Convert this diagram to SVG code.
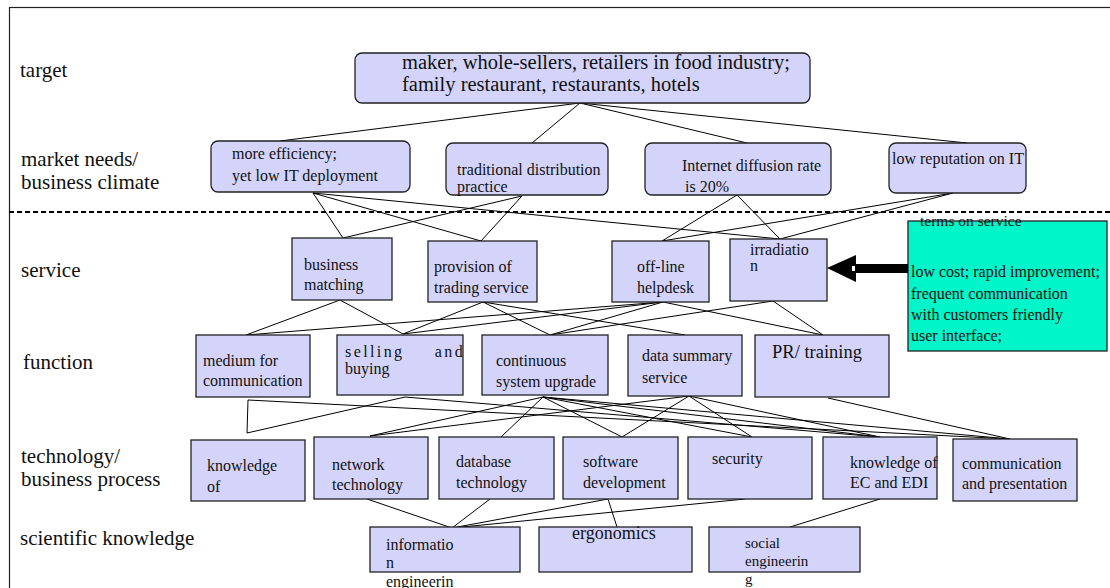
<svg xmlns="http://www.w3.org/2000/svg" width="1110" height="588" viewBox="0 0 1110 588" font-family="'Liberation Serif', 'Times New Roman', serif">
  <style>
    text { font-family: "Liberation Serif", "Times New Roman", serif; fill: #111; }
    .lbl { font-size: 21px; }
    .t16 { font-size: 16px; }
    .box { fill: #D4D4FB; stroke: #222; stroke-width: 1.3; }
    .rbox { fill: #D4D4FB; stroke: #222; stroke-width: 1.3; }
    .green { fill: #00F5C8; stroke: #222; stroke-width: 1.3; }
    #connectors line, #connectors polyline { stroke: #000; stroke-width: 1; fill: none; }
  </style>

  <!-- frame and level separator -->
  <rect x="9.5" y="7.5" width="1120" height="600" fill="#fff" stroke="#222" stroke-width="1.2"/>
  <line x1="9" y1="212" x2="1110" y2="212" stroke="#000" stroke-width="2" stroke-dasharray="5 3"/>

  <!-- level labels -->
  <g id="labels" class="lbl">
    <text x="20" y="77">target</text>
    <text x="21" y="166">market needs/</text>
    <text x="21" y="189">business climate</text>
    <text x="21" y="277">service</text>
    <text x="23" y="369">function</text>
    <text x="21" y="463">technology/</text>
    <text x="21" y="486">business process</text>
    <text x="20" y="545">scientific knowledge</text>
  </g>

  <!-- connectors -->
  <g id="connectors">
    <!-- target -> market needs -->
    <line x1="580" y1="103" x2="280" y2="141"/>
    <line x1="580" y1="103" x2="532" y2="143"/>
    <line x1="580" y1="103" x2="747" y2="143"/>
    <line x1="580" y1="103" x2="967" y2="143"/>
    <!-- market needs -> service -->
    <line x1="313" y1="193" x2="343" y2="238"/>
    <line x1="313" y1="193" x2="481" y2="241"/>
    <line x1="313" y1="193" x2="780" y2="239"/>
    <line x1="522" y1="196" x2="343" y2="238"/>
    <line x1="522" y1="196" x2="481" y2="241"/>
    <line x1="737" y1="195" x2="662" y2="241"/>
    <line x1="737" y1="195" x2="780" y2="239"/>
    <line x1="953" y1="193" x2="662" y2="241"/>
    <line x1="953" y1="193" x2="780" y2="239"/>
    <!-- service -> function -->
    <line x1="340" y1="300" x2="246" y2="335"/>
    <line x1="340" y1="300" x2="403" y2="334"/>
    <line x1="483" y1="302" x2="403" y2="334"/>
    <line x1="483" y1="302" x2="550" y2="335"/>
    <line x1="483" y1="302" x2="685" y2="335"/>
    <line x1="663" y1="302" x2="246" y2="335"/>
    <line x1="663" y1="302" x2="403" y2="334"/>
    <line x1="663" y1="302" x2="550" y2="335"/>
    <line x1="663" y1="302" x2="823" y2="335"/>
    <line x1="773" y1="301" x2="550" y2="335"/>
    <line x1="773" y1="301" x2="823" y2="335"/>
    <!-- function -> technology -->
    <polyline points="247,433 248,400 1010,439"/>
    <line x1="405" y1="397" x2="247" y2="433"/>
    <line x1="405" y1="397" x2="880" y2="437"/>
    <line x1="543" y1="397" x2="370" y2="436"/>
    <line x1="543" y1="397" x2="501" y2="437"/>
    <line x1="543" y1="397" x2="622" y2="437"/>
    <line x1="543" y1="397" x2="752" y2="437"/>
    <line x1="543" y1="397" x2="880" y2="437"/>
    <line x1="543" y1="397" x2="1010" y2="439"/>
    <line x1="689" y1="396" x2="370" y2="436"/>
    <line x1="689" y1="396" x2="622" y2="437"/>
    <line x1="689" y1="396" x2="752" y2="437"/>
    <line x1="689" y1="396" x2="880" y2="437"/>
    <line x1="828" y1="398" x2="1010" y2="439"/>
    <!-- technology -> scientific knowledge -->
    <line x1="367" y1="499" x2="452" y2="528"/>
    <line x1="490" y1="499" x2="452" y2="528"/>
    <line x1="608" y1="499" x2="452" y2="528"/>
    <line x1="608" y1="499" x2="617" y2="527"/>
    <line x1="745" y1="499" x2="452" y2="528"/>
    <line x1="880" y1="499" x2="790" y2="527"/>
  </g>

  <!-- target -->
  <g id="n-target">
    <rect class="rbox" x="355" y="53" width="455" height="50" rx="7"/>
    <text x="402" y="69" style="font-size:20.5px">maker, whole-sellers, retailers in food industry;</text>
    <text x="402" y="91" style="font-size:20.5px">family restaurant, restaurants, hotels</text>
  </g>

  <!-- market needs / business climate -->
  <g id="n-efficiency">
    <rect class="rbox" x="211" y="141" width="199" height="51" rx="7"/>
    <text class="t16" x="232" y="159">more efficiency;</text>
    <text class="t16" x="232" y="181">yet low IT deployment</text>
  </g>
  <g id="n-distribution">
    <rect class="rbox" x="446" y="143" width="162" height="52" rx="7"/>
    <text class="t16" x="457" y="175">traditional distribution</text>
    <text class="t16" x="457" y="192">practice</text>
  </g>
  <g id="n-internet">
    <rect class="rbox" x="645" y="143" width="186" height="52" rx="7"/>
    <text class="t16" x="682" y="171">Internet diffusion rate</text>
    <text class="t16" x="685" y="192">is 20%</text>
  </g>
  <g id="n-reputation">
    <rect class="rbox" x="889" y="143" width="137" height="50" rx="7"/>
    <text class="t16" x="892" y="164">low reputation on IT</text>
  </g>

  <!-- service -->
  <g id="n-matching">
    <rect class="box" x="292" y="238" width="100" height="62"/>
    <text class="t16" x="304" y="270">business</text>
    <text class="t16" x="304" y="290">matching</text>
  </g>
  <g id="n-trading">
    <rect class="box" x="428" y="241" width="109" height="61"/>
    <text class="t16" x="434" y="272">provision of</text>
    <text class="t16" x="434" y="293">trading service</text>
  </g>
  <g id="n-helpdesk">
    <rect class="box" x="612" y="241" width="97" height="61"/>
    <text class="t16" x="637" y="272">off-line</text>
    <text class="t16" x="637" y="293">helpdesk</text>
  </g>
  <g id="n-irradiation">
    <rect class="box" x="730" y="239" width="97" height="62"/>
    <text class="t16" x="750" y="255">irradiatio</text>
    <text class="t16" x="750" y="271">n</text>
  </g>

  <!-- terms on service -->
  <g id="n-terms">
    <rect class="green" x="908" y="221" width="199" height="130"/>
    <text x="920" y="226" style="font-size:15.5px">terms on service</text>
    <text class="t16" x="911" y="277">low cost; rapid improvement;</text>
    <text class="t16" x="911" y="299">frequent communication</text>
    <text class="t16" x="911" y="320">with customers friendly</text>
    <text class="t16" x="911" y="341">user interface;</text>
  </g>
  <g id="arrow">
    <polygon points="827,268 856,255 856,264 908,264 908,273 856,273 856,282" fill="#000"/>
    <rect x="852" y="266" width="3" height="5" fill="#fff"/>
  </g>

  <!-- function -->
  <g id="n-medium">
    <rect class="box" x="196" y="335" width="114" height="62"/>
    <text class="t16" x="203" y="366">medium for</text>
    <text class="t16" x="203" y="386">communication</text>
  </g>
  <g id="n-selling">
    <rect class="box" x="337" y="335" width="126" height="60"/>
    <text class="t16" x="345" y="357" style="letter-spacing:2.4px;word-spacing:24px">selling and</text>
    <text class="t16" x="345" y="374">buying</text>
  </g>
  <g id="n-upgrade">
    <rect class="box" x="482" y="335" width="126" height="60"/>
    <text class="t16" x="496" y="366">continuous</text>
    <text class="t16" x="496" y="387">system upgrade</text>
  </g>
  <g id="n-summary">
    <rect class="box" x="628" y="335" width="114" height="61"/>
    <text class="t16" x="642" y="361">data summary</text>
    <text class="t16" x="642" y="383">service</text>
  </g>
  <g id="n-training">
    <rect class="box" x="755" y="335" width="134" height="62"/>
    <text x="772" y="358" style="font-size:18.5px">PR/ training</text>
  </g>

  <!-- technology / business process -->
  <g id="n-knowledge">
    <rect class="box" x="191" y="440" width="114" height="61"/>
    <text class="t16" x="207" y="471">knowledge</text>
    <text class="t16" x="207" y="492">of</text>
  </g>
  <g id="n-network">
    <rect class="box" x="314" y="437" width="114" height="62"/>
    <text class="t16" x="332" y="470">network</text>
    <text class="t16" x="332" y="490">technology</text>
  </g>
  <g id="n-database">
    <rect class="box" x="439" y="437" width="115" height="62"/>
    <text class="t16" x="456" y="467">database</text>
    <text class="t16" x="456" y="488">technology</text>
  </g>
  <g id="n-software">
    <rect class="box" x="563" y="437" width="115" height="62"/>
    <text class="t16" x="583" y="467">software</text>
    <text class="t16" x="583" y="488">development</text>
  </g>
  <g id="n-security">
    <rect class="box" x="688" y="437" width="124" height="62"/>
    <text class="t16" x="712" y="464">security</text>
  </g>
  <g id="n-ec">
    <rect class="box" x="823" y="437" width="114" height="62"/>
    <text class="t16" x="850" y="468">knowledge of</text>
    <text class="t16" x="850" y="488">EC and EDI</text>
  </g>
  <g id="n-presentation">
    <rect class="box" x="953" y="439" width="124" height="62"/>
    <text class="t16" x="962" y="469">communication</text>
    <text class="t16" x="962" y="489">and presentation</text>
  </g>

  <!-- scientific knowledge -->
  <g id="n-infoeng">
    <rect class="box" x="370" y="527" width="150" height="45"/>
    <text class="t16" x="386" y="550">informatio</text>
    <text class="t16" x="386" y="568">n</text>
    <text class="t16" x="386" y="587">engineerin</text>
  </g>
  <g id="n-ergonomics">
    <rect class="box" x="539" y="527" width="153" height="45"/>
    <text x="572" y="539" style="font-size:18px">ergonomics</text>
  </g>
  <g id="n-social">
    <rect class="box" x="709" y="527" width="151" height="45"/>
    <text x="745" y="548" style="font-size:15px">social</text>
    <text x="745" y="566" style="font-size:15px">engineerin</text>
    <text x="745" y="584" style="font-size:15px">g</text>
  </g>
</svg>
